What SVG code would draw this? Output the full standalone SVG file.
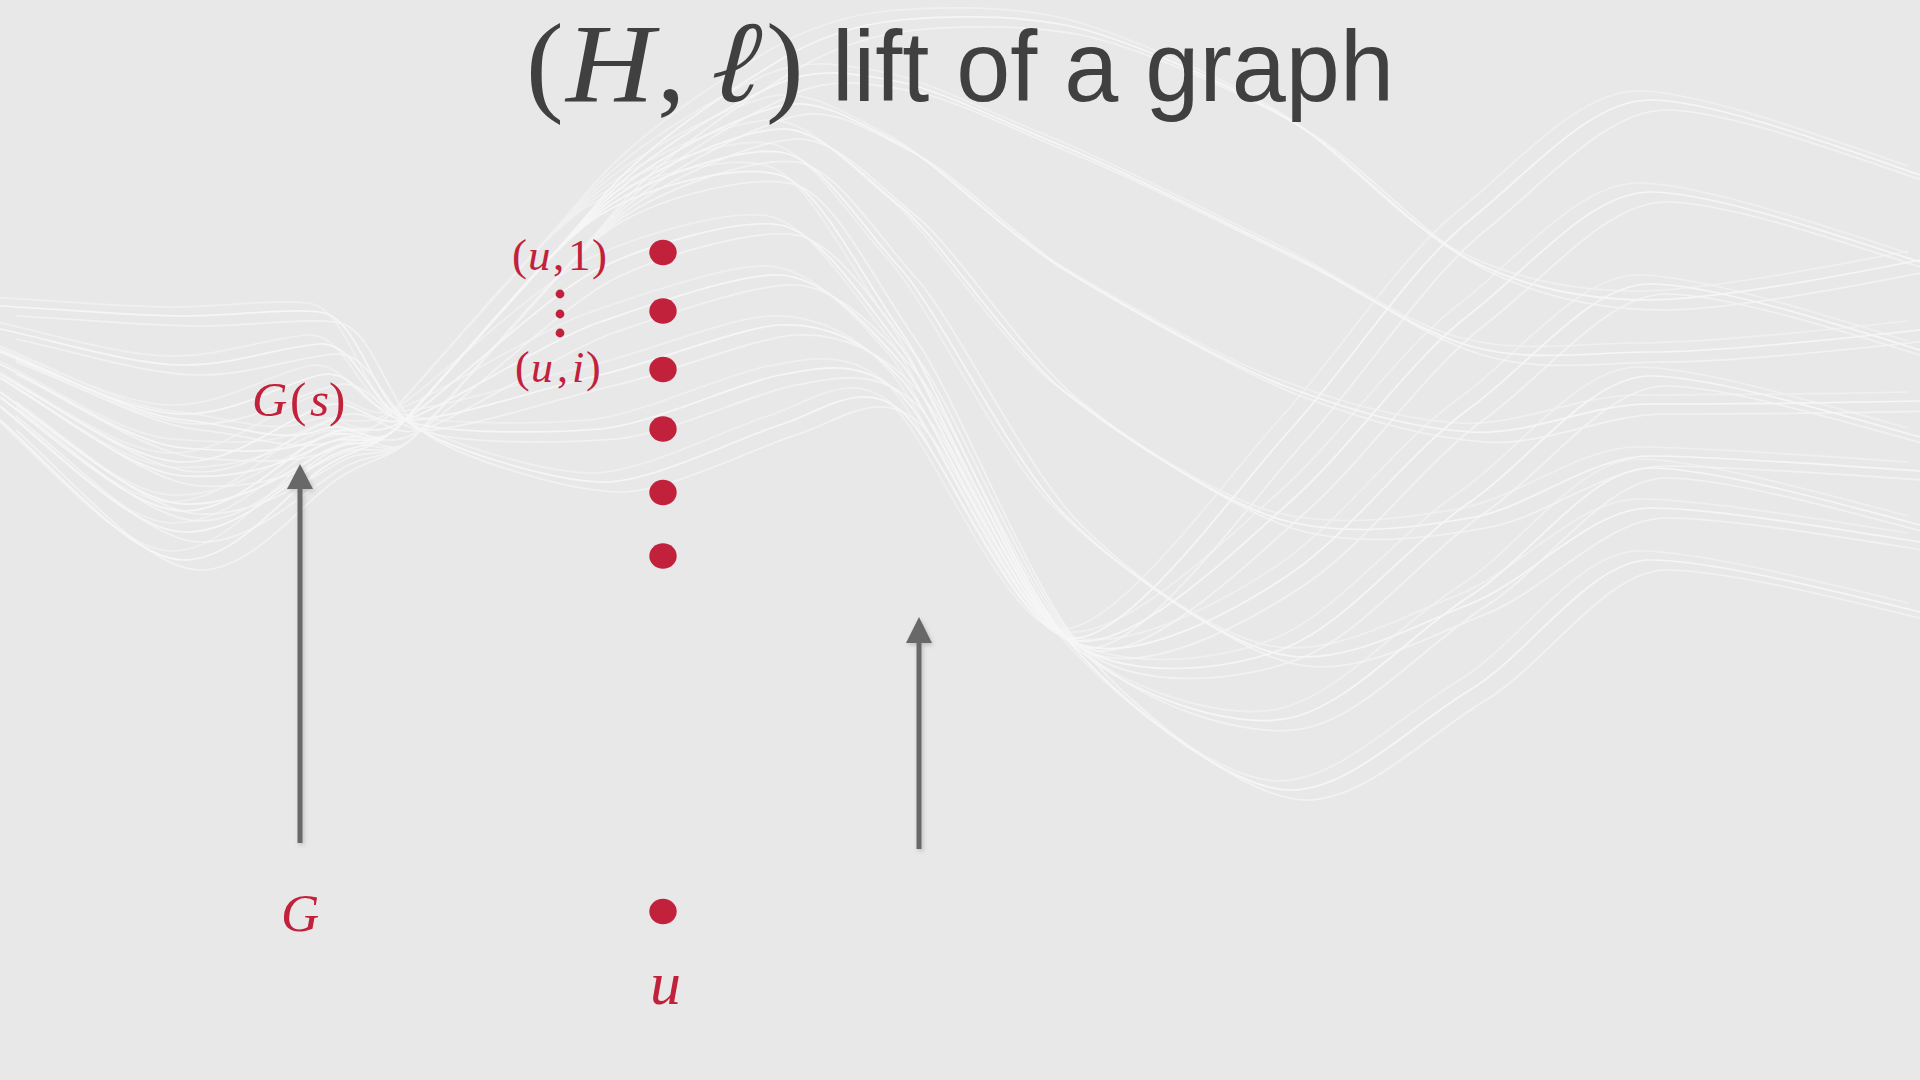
<svg xmlns="http://www.w3.org/2000/svg" xmlns:xlink="http://www.w3.org/1999/xlink" width="1920" height="1080" viewBox="0 0 1920 1080">
<defs>
<style>
.wave{fill:none;stroke:#f7f7f7;stroke-width:1.7;}
.serif{font-family:"Liberation Serif","Times New Roman",serif;fill:#c1213b;}
.it{font-style:italic;}
.dot{fill:#c1213b;}
.shaft{stroke:#676767;stroke-width:5;fill:none;}
.head{fill:#676767;}
.ttl{font-family:"Liberation Serif","Times New Roman",serif;fill:#404040;}
</style>
<filter id="sh" x="-50%" y="-10%" width="200%" height="120%">
<feDropShadow dx="1.5" dy="2" stdDeviation="2" flood-color="#000" flood-opacity="0.18"/>
</filter>
</defs>
<rect width="1920" height="1080" fill="#e8e8e8"/>
<g id="waves" opacity="0.95">
<g id="wavelines">
<path class="wave" d="M0,306 C61,309 132,316 184,316 S283,308 320,312 S370,392 405,420 S550,480 600,482 S740,437 780,425 S860,378 900,410 S1010,620 1065,637 S1230,496 1290,430 S1410,268 1470,220 S1590,100 1650,100 S1830,144 1920,175"/>
<path class="wave" d="M0,329 C61,342 132,365 184,365 S283,346 320,344 S370,405 405,420 S550,433 600,429 S740,382 780,375 S860,357 900,394 S1010,610 1065,637 S1230,555 1290,502 S1410,360 1470,314 S1590,192 1650,192 S1830,233 1920,262"/>
<path class="wave" d="M0,352 C61,375 132,414 184,414 S283,383 320,375 S370,417 405,420 S550,386 600,375 S740,327 780,325 S860,336 900,378 S1010,600 1065,637 S1230,614 1290,574 S1410,451 1470,408 S1590,284 1650,284 S1830,322 1920,350"/>
<path class="wave" d="M0,374 C61,409 132,462 184,462 S283,421 320,407 S370,430 405,420 S550,339 600,322 S740,273 780,275 S860,316 900,362 S1010,591 1065,637 S1230,672 1290,646 S1410,543 1470,502 S1590,376 1650,376 S1830,412 1920,437"/>
<path class="wave" d="M0,397 C61,442 132,511 184,511 S283,458 320,438 S370,442 405,420 S550,292 600,268 S740,218 780,225 S860,295 900,346 S1010,581 1065,637 S1230,731 1290,718 S1410,634 1470,596 S1590,468 1650,468 S1830,501 1920,525"/>
<path class="wave" d="M0,420 C61,475 132,560 184,560 S283,496 320,470 S370,455 405,420 S550,245 600,215 S740,163 780,175 S860,274 900,330 S1010,571 1065,637 S1230,790 1290,790 S1410,726 1470,690 S1590,560 1650,560 S1830,590 1920,612"/>
<path class="wave" d="M0,406 C61,455 132,531 184,532 S283,486 320,462 S370,456 405,420 S550,248 600,212 S740,147 780,152 S860,224 900,268 S1010,460 1065,515 S1230,649 1290,656 S1410,627 1470,604 S1590,508 1650,508 S1830,528 1920,542"/>
<path class="wave" d="M0,392 C61,435 132,502 184,504 S283,476 320,454 S370,457 405,420 S550,251 600,209 S740,131 780,129 S860,174 900,206 S1010,348 1065,392 S1230,508 1290,522 S1410,528 1470,518 S1590,456 1650,456 S1830,465 1920,471"/>
<path class="wave" d="M0,378 C61,414 132,473 184,476 S283,465 320,446 S370,459 405,420 S550,254 600,206 S740,116 780,106 S860,124 900,144 S1010,237 1065,270 S1230,366 1290,388 S1410,428 1470,432 S1590,404 1650,404 S1830,403 1920,401"/>
<path class="wave" d="M0,364 C61,394 132,444 184,448 S283,455 320,438 S370,460 405,420 S550,257 600,203 S740,100 780,83 S860,74 900,82 S1010,125 1065,147 S1230,225 1290,254 S1410,329 1470,346 S1590,352 1650,352 S1830,340 1920,330"/>
<path class="wave" d="M0,350 C61,374 132,415 184,420 S283,445 320,430 S370,461 405,420 S550,260 600,200 S740,84 780,60 S860,24 900,20 S1010,14 1065,25 S1230,84 1290,120 S1410,230 1470,260 S1590,300 1650,300 S1830,278 1920,260"/>
</g>
<use xlink:href="#wavelines" href="#wavelines" transform="translate(16,10)" opacity="0.75"/>
<use xlink:href="#wavelines" href="#wavelines" transform="translate(-12,-9)" opacity="0.55"/>
</g>
<g id="title">
<text class="ttl" x="526" y="101" font-size="113">(</text>
<text class="ttl" font-size="113" font-style="italic" transform="translate(566,101) scale(1.08,1)">H</text>
<text class="ttl" x="657" y="101" font-size="113">,</text>
<text class="ttl" font-size="116" transform="translate(701,101) skewX(-14)">ℓ</text>
<text class="ttl" x="766" y="101" font-size="113">)</text>
<text x="832" y="101" font-size="100" font-family="Liberation Sans, Arial, sans-serif" fill="#404040" textLength="562" lengthAdjust="spacingAndGlyphs">lift of a graph</text>
</g>
<g id="connectors">
<g id="arrow-G-to-Gs" filter="url(#sh)">
<line class="shaft" x1="300" y1="843" x2="300" y2="486"/>
<polygon class="head" points="300,464 287,489 313,489"/>
</g>
<g id="arrow-right" filter="url(#sh)">
<line class="shaft" x1="919" y1="849" x2="919" y2="640"/>
<polygon class="head" points="919,617 906,643 932,643"/>
</g>
</g>
<g id="node-Gs"><text class="serif" y="416" font-size="49"><tspan x="252" class="it">G</tspan><tspan x="290">(</tspan><tspan x="310" class="it">s</tspan><tspan x="329">)</tspan></text></g>
<g id="node-G"><text class="serif it" x="281" y="931" font-size="53">G</text></g>
<g id="label-u1"><text class="serif" y="270" font-size="45"><tspan x="512">(</tspan><tspan x="528" class="it">u</tspan><tspan x="553">,</tspan><tspan x="568">1</tspan><tspan x="592">)</tspan></text></g>
<g id="label-vdots"><circle class="dot" cx="560" cy="294" r="4.4"/><circle class="dot" cx="560" cy="314" r="4.4"/><circle class="dot" cx="560" cy="333" r="4.4"/></g>
<g id="label-ui"><text class="serif" y="382" font-size="44"><tspan x="515">(</tspan><tspan x="531" class="it">u</tspan><tspan x="557">,</tspan><tspan x="572" class="it">i</tspan><tspan x="586">)</tspan></text></g>
<g id="node-u1"><ellipse class="dot" cx="663" cy="252.5" rx="13.7" ry="12.7"/></g>
<g id="node-u2"><ellipse class="dot" cx="663" cy="311" rx="13.7" ry="12.7"/></g>
<g id="node-u3"><ellipse class="dot" cx="663" cy="369.5" rx="13.7" ry="12.7"/></g>
<g id="node-u4"><ellipse class="dot" cx="663" cy="429" rx="13.7" ry="12.7"/></g>
<g id="node-u5"><ellipse class="dot" cx="663" cy="492.5" rx="13.7" ry="12.7"/></g>
<g id="node-u6"><ellipse class="dot" cx="663" cy="556" rx="13.7" ry="12.7"/></g>
<g id="node-u"><ellipse class="dot" cx="663" cy="911.5" rx="13.7" ry="12.7"/></g>
<g id="label-u"><text class="serif it" x="650" y="1004" font-size="62">u</text></g>
</svg>
